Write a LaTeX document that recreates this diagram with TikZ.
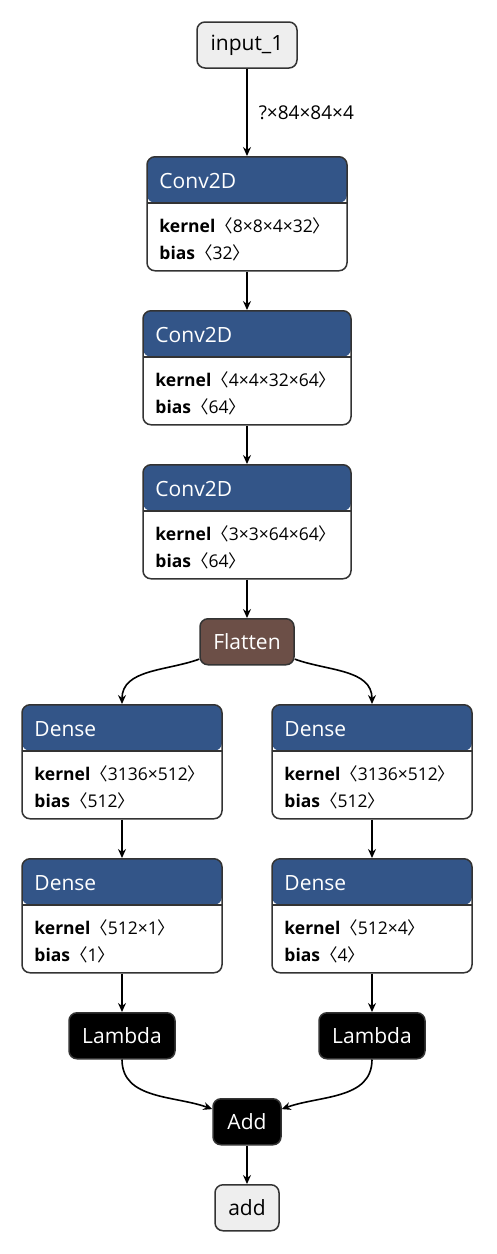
\documentclass[tikz,border=0pt]{standalone}
\usepackage{fontspec}
\setmainfont{Open Sans}
\newfontfamily\cjk{Noto Sans CJK SC}
\usetikzlibrary{
  arrows.meta,
  positioning
}
\definecolor{layerblue}{RGB}{51,85,136}
\definecolor{shapebrown}{RGB}{108,79,71}
\definecolor{iogray}{RGB}{238,238,238}
\definecolor{edgegray}{RGB}{51,51,51}

\newcommand{\attr}[2]{\textbf{#1}{\cjk 〈}#2{\cjk 〉}}
\newcommand{\layertext}[4]{%
  \node[title] (#1-t) at ([xshift=13pt,yshift=-32pt]#1.north west) {#2};
  \node[attrs] (#1-k) at ([xshift=13pt,yshift=-76pt]#1.north west) {\attr{kernel}{#3}};
  \node[attrs] (#1-b) at ([xshift=13pt,yshift=-103pt]#1.north west) {\attr{bias}{#4}};
}

\begin{document}
\begin{tikzpicture}[x=1pt, y=1pt, node distance=38.5pt,
  box/.style={draw=edgegray, line width=1.5pt, rounded corners=8pt,
    inner sep=0pt, minimum height=46pt,
    font=\fontsize{21}{23}\selectfont},
  iobox/.style={box, fill=iogray, text=black},
  opbox/.style={box, fill=black, text=white},
  shapebox/.style={box, fill=shapebrown, text=white},
  layer/.style={draw=edgegray, line width=1.5pt, rounded corners=8pt, fill=white,
    minimum height=114pt, inner sep=0pt,
    path picture={
      \fill[layerblue] (path picture bounding box.north west) rectangle
        ([yshift=-46pt]path picture bounding box.north east);
      \draw[edgegray, line width=1.5pt] ([yshift=-46pt]path picture bounding box.north west) --
        ([yshift=-46pt]path picture bounding box.north east);}},
  title/.style={anchor=base west, inner sep=0pt, text=white,
    font=\fontsize{21}{23}\selectfont},
  attrs/.style={anchor=base west, inner sep=0pt,
    font=\fontsize{17.5}{20}\selectfont},
  edge/.style={line width=1.6pt, -{Stealth[length=9pt, width=8pt, inset=3pt]}}
]
  \useasboundingbox (0,0) rectangle (496,-1254);

  % trunk
  \node[iobox, minimum width=100pt] (input) at (247,-45) {input\_1};
  \node[layer, minimum width=200pt, anchor=north] (conv1) at (247,-156) {};
  \node[layer, minimum width=208pt, below=of conv1] (conv2) {};
  \node[layer, minimum width=208pt, below=of conv2] (conv3) {};
  \node[shapebox, minimum width=94pt, below=of conv3] (flatten) {Flatten};

  % two heads
  \node[layer, minimum width=200pt, below=of flatten, xshift=-125pt] (dense1) {};
  \node[layer, minimum width=200pt, below=of flatten, xshift=125pt] (dense2) {};
  \node[layer, minimum width=200pt, below=of dense1] (dense3) {};
  \node[layer, minimum width=200pt, below=of dense2] (dense4) {};
  \node[opbox, minimum width=106pt, below=of dense3] (lambda1) {Lambda};
  \node[opbox, minimum width=106pt, below=of dense4] (lambda2) {Lambda};
  \node[opbox, minimum width=68pt, below=of flatten |- lambda1.south] (add) {Add};
  \node[iobox, minimum width=64pt, below=of add] (output) {add};

  \layertext{conv1}{Conv2D}{8×8×4×32}{32}
  \layertext{conv2}{Conv2D}{4×4×32×64}{64}
  \layertext{conv3}{Conv2D}{3×3×64×64}{64}
  \layertext{dense1}{Dense}{3136×512}{512}
  \layertext{dense2}{Dense}{3136×512}{512}
  \layertext{dense3}{Dense}{512×1}{1}
  \layertext{dense4}{Dense}{512×4}{4}

  % edges
  \draw[edge] (input) -- node[anchor=west, xshift=11pt, inner sep=0pt,
    font=\fontsize{19}{21}\selectfont] (shape) {?×84×84×4} (conv1);
  \draw[edge] (conv1) -- (conv2);
  \draw[edge] (conv2) -- (conv3);
  \draw[edge] (conv3) -- (flatten);
  \draw[edge] (flatten.200) to[out=200, in=90] (dense1.north);
  \draw[edge] (flatten.-20) to[out=-20, in=90] (dense2.north);
  \draw[edge] (dense1) -- (dense3);
  \draw[edge] (dense2) -- (dense4);
  \draw[edge] (dense3) -- (lambda1);
  \draw[edge] (dense4) -- (lambda2);
  \draw[edge] (lambda1.south) to[out=-90, in=160] (add.160);
  \draw[edge] (lambda2.south) to[out=-90, in=20] (add.20);
  \draw[edge] (add) -- (output);
\end{tikzpicture}
\end{document}
